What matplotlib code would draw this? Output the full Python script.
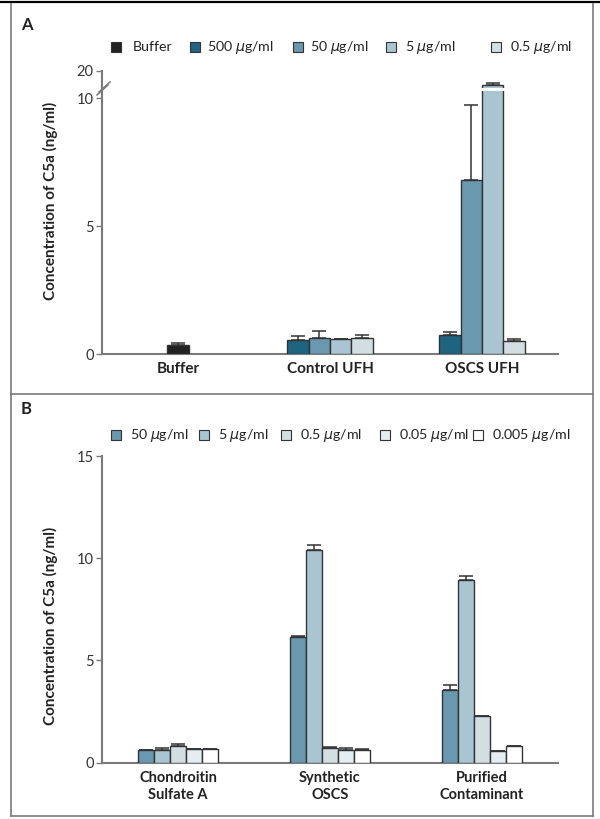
import numpy as np
import matplotlib
matplotlib.use("Agg")
import matplotlib.pyplot as plt
from matplotlib.patches import Rectangle
from matplotlib.lines import Line2D

plt.rcParams['font.family'] = ['Lato', 'DejaVu Sans']

# ---------------- data ----------------
groups_a = ["Buffer", "Control UFH", "OSCS UFH"]
series_a = ["Buffer", "500 $\\mu$g/ml", "50 $\\mu$g/ml", "5 $\\mu$g/ml", "0.5 $\\mu$g/ml"]
buffer_val = [0.34]
buffer_err = [0.10]
control_ufh = [0.55, 0.61, 0.57, 0.64]
control_ufh_err = [0.14, 0.30, 0.03, 0.09]
oscs_ufh = [0.74, 6.8, 14.8, 0.52]
oscs_ufh_err = [0.12, 2.93, 0.8, 0.07]

groups_b = ["Chondroitin\nSulfate A", "Synthetic\nOSCS", "Purified\nContaminant"]
series_b = ["50 $\\mu$g/ml", "5 $\\mu$g/ml", "0.5 $\\mu$g/ml", "0.05 $\\mu$g/ml", "0.005 $\\mu$g/ml"]
chondroitin = [0.62, 0.62, 0.83, 0.68, 0.68]
chondroitin_err = [0.0, 0.08, 0.10, 0.0, 0.0]
synthetic = [6.16, 10.42, 0.73, 0.62, 0.64]
synthetic_err = [0.04, 0.21, 0.05, 0.11, 0.02]
purified = [3.54, 8.93, 2.28, 0.57, 0.80]
purified_err = [0.27, 0.20, 0.0, 0.0, 0.04]

yticks_a = [0, 5, 10, 20]
yticks_b = [0, 5, 10, 15]

# ---------------- style ----------------
c_buffer = "#222222"
colors_a = ["#1e6481", "#6a98ae", "#a9c5d2", "#d3dee3"]
colors_b = ["#6a98ae", "#a9c5d2", "#d3dee3", "#e3edf2", "#ffffff"]
edge = "#333333"
spine_c = "#7a7a7a"
text_c = "#222222"

W, H = 600, 819
fig = plt.figure(figsize=(6, 8.19), dpi=100)

def fx(px):
    return px / W

def fy(py):
    return 1 - py / H

# frame
fig.add_artist(Line2D([0, 1], [fy(2), fy(2)], color="black", lw=1.6))
for (x0, y0, x1, y1) in [(10.5, 4, 10.5, 816), (593, 4, 593, 816), (10.5, 394, 593, 394), (10.5, 816, 593, 816)]:
    fig.add_artist(Line2D([fx(x0), fx(x1)], [fy(y0), fy(y1)], color=spine_c, lw=1.2))

fig.text(fx(21), fy(25), "A", fontsize=12, fontweight="bold", ha="left", va="center", color=text_c)
fig.text(fx(21), fy(409), "B", fontsize=12, fontweight="bold", ha="left", va="center", color=text_c)

# ---------------- panel A ----------------
k = 2.7 / 25.6
def fwd(y):
    y = np.asarray(y, float)
    return np.where(y <= 10, y, 10 + (y - 10) * k)

def inv(t):
    t = np.asarray(t, float)
    return np.where(t <= 10, t, 10 + (t - 10) / k)

axA = fig.add_axes([fx(102), fy(354), fx(558) - fx(102), fy(71) - fy(354)])
axA.set_yscale('function', functions=(fwd, inv))
axA.set_ylim(0, 20)
axA.set_xlim(-0.5, 2.5)
wA = 0.14
ekw = dict(ecolor="#333333", elinewidth=1.1, capsize=5, capthick=1.1)

axA.bar(0, buffer_val[0], width=wA, color=c_buffer, edgecolor=edge, lw=1,
        yerr=[[0], buffer_err], error_kw=ekw, zorder=3)
offs4 = (np.arange(4) - 1.5) * wA
for i in range(4):
    axA.bar(1 + offs4[i], control_ufh[i], width=wA, color=colors_a[i], edgecolor=edge, lw=1,
            yerr=[[0], [control_ufh_err[i]]], error_kw=ekw, zorder=3)
    axA.bar(2 + offs4[i], oscs_ufh[i], width=wA, color=colors_a[i], edgecolor=edge, lw=1,
            yerr=[[0], [oscs_ufh_err[i]]], error_kw=ekw, zorder=3)
# break stripe on tall bar
axA.bar(2 + offs4[2], 13.7 - 12.6, bottom=12.6, width=wA * 1.15, color="white", lw=0, zorder=5)

axA.set_yticks(yticks_a)
axA.set_yticklabels([str(v) for v in yticks_a])
axA.set_xticks(range(3))
axA.set_xticklabels(groups_a, fontweight="bold", fontsize=11)

# break marks on axis
def ax_pt(px, py, top, bottom):
    return ((px - 102) / 456, (bottom - py) / (bottom - top))
for (p0, p1) in [((97, 95), (108, 85)), ((99, 92), (110, 82))]:
    a0 = ax_pt(*p0, 71, 354)
    a1 = ax_pt(*p1, 71, 354)
    axA.add_line(Line2D([a0[0], a1[0]], [a0[1], a1[1]], transform=axA.transAxes,
                        color=spine_c, lw=1.1, clip_on=False, zorder=6))

# ---------------- panel B ----------------
axB = fig.add_axes([fx(102), fy(762.7), fx(558) - fx(102), fy(456) - fy(762.7)])
axB.set_ylim(0, 15)
axB.set_xlim(-0.5, 2.5)
wB = 0.105
offs5 = (np.arange(5) - 2) * wB
for gi, (vals, errs) in enumerate([(chondroitin, chondroitin_err), (synthetic, synthetic_err), (purified, purified_err)]):
    for i in range(5):
        axB.bar(gi + offs5[i], vals[i], width=wB, color=colors_b[i], edgecolor=edge, lw=1,
                yerr=[[0], [errs[i]]], error_kw=ekw, zorder=3)
axB.set_yticks(yticks_b)
axB.set_yticklabels([str(v) for v in yticks_b])
axB.set_xticks(range(3))
axB.set_xticklabels(groups_b, fontweight="bold", fontsize=10.5, linespacing=1.3)

for ax in (axA, axB):
    for s in ("top", "right"):
        ax.spines[s].set_visible(False)
    for s in ("left", "bottom"):
        ax.spines[s].set_color(spine_c)
        ax.spines[s].set_linewidth(1.5)
    ax.tick_params(axis="y", direction="out", length=4, width=1, color=spine_c,
                   labelsize=10.5, labelcolor="#333333", pad=2)
    ax.tick_params(axis="x", length=0, pad=6, labelcolor=text_c)

fig.text(fx(50), fy(201), "Concentration of C5a (ng/ml)", rotation=90, ha="center", va="center",
         fontsize=11, fontweight="bold", color=text_c)
fig.text(fx(50), fy(626), "Concentration of C5a (ng/ml)", rotation=90, ha="center", va="center",
         fontsize=11, fontweight="bold", color=text_c)

# ---------------- legends ----------------
def legend_item(xsq, xtxt, yc, color, label):
    s = 10
    fig.add_artist(Rectangle((fx(xsq - s / 2), fy(yc + s / 2)), s / W, s / H, facecolor=color,
                             edgecolor=edge, lw=0.8, transform=fig.transFigure))
    fig.text(fx(xtxt), fy(yc), label, fontsize=10.2, ha="left", va="center", color=text_c)

leg_a_colors = [c_buffer] + colors_a
leg_a_sq = [116, 195, 298, 391, 496]
leg_a_tx = [133, 207, 310, 405, 510]
for c, lab, xs, xt in zip(leg_a_colors, series_a, leg_a_sq, leg_a_tx):
    legend_item(xs, xt, 47, c, lab)

leg_b_sq = [116, 204, 286, 385, 478]
leg_b_tx = [130, 218, 300, 399, 492]
for c, lab, xs, xt in zip(colors_b, series_b, leg_b_sq, leg_b_tx):
    legend_item(xs, xt, 435, c, lab)

fig.savefig("out.png", dpi=100)
